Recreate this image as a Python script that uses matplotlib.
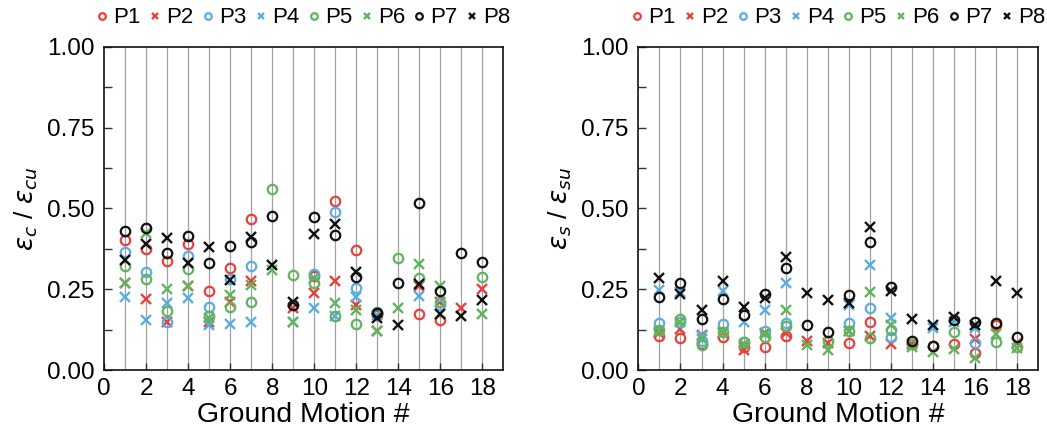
import numpy as np
import matplotlib
matplotlib.use("Agg")
import matplotlib.pyplot as plt
from matplotlib.ticker import MultipleLocator, FormatStrFormatter

plt.rcParams['font.family'] = ['Liberation Sans', 'DejaVu Sans']
plt.rcParams['mathtext.fontset'] = 'dejavusans'

nan = np.nan
ground_motions = list(range(1, 19))
series_names = ["P1", "P2", "P3", "P4", "P5", "P6", "P7", "P8"]

# Left panel: concrete strain ratio eps_c / eps_cu
conc_P1 = [0.401, 0.374, 0.338, 0.389, 0.244, 0.314, 0.466, nan, nan, 0.290, 0.524, 0.371, 0.170, nan, 0.173, 0.155, nan, nan]
conc_P2 = [0.270, 0.219, 0.150, 0.260, 0.150, 0.211, 0.275, nan, 0.191, 0.239, 0.275, 0.201, 0.122, nan, 0.260, 0.210, 0.191, 0.250]
conc_P3 = [0.365, 0.303, 0.150, 0.353, 0.196, 0.280, 0.322, nan, nan, 0.297, 0.490, 0.253, 0.175, nan, nan, 0.200, nan, nan]
conc_P4 = [0.227, 0.155, 0.206, 0.222, 0.140, 0.141, 0.150, nan, 0.150, 0.191, 0.167, 0.225, 0.170, nan, 0.229, nan, nan, nan]
conc_P5 = [0.323, 0.280, 0.182, 0.311, 0.167, 0.196, 0.209, 0.559, 0.294, 0.270, 0.167, 0.141, 0.180, 0.345, 0.284, 0.211, nan, 0.287]
conc_P6 = [0.270, 0.425, 0.250, 0.260, 0.160, 0.232, 0.263, 0.309, 0.150, 0.285, 0.208, 0.186, 0.122, 0.191, 0.328, 0.260, nan, 0.173]
conc_P7 = [0.430, 0.440, 0.361, 0.414, 0.332, 0.385, 0.397, 0.476, 0.200, 0.472, 0.418, 0.287, 0.175, 0.268, 0.516, 0.244, 0.361, 0.335]
conc_P8 = [0.340, 0.389, 0.409, 0.330, 0.381, 0.278, 0.412, 0.325, 0.210, 0.420, 0.451, 0.302, 0.160, 0.139, 0.266, 0.173, 0.167, 0.216]

# Right panel: steel strain ratio eps_s / eps_su
steel_P1 = [0.105, 0.100, 0.080, 0.103, 0.070, 0.072, 0.105, nan, nan, 0.082, 0.150, nan, 0.080, 0.075, 0.080, 0.052, 0.140, nan]
steel_P2 = [0.115, 0.127, 0.108, 0.115, 0.062, 0.115, 0.114, 0.091, 0.083, 0.120, 0.105, 0.080, 0.080, nan, nan, 0.096, nan, 0.085]
steel_P3 = [0.146, 0.150, 0.090, 0.142, 0.088, 0.120, 0.146, nan, nan, 0.144, 0.191, 0.103, nan, nan, nan, 0.085, nan, nan]
steel_P4 = [0.247, 0.240, 0.105, 0.244, 0.150, 0.186, 0.268, nan, nan, 0.200, 0.325, 0.160, nan, 0.130, 0.150, 0.130, nan, nan]
steel_P5 = [0.124, 0.157, 0.077, 0.119, 0.088, 0.101, 0.135, nan, 0.091, 0.120, 0.100, 0.124, 0.080, nan, 0.119, nan, 0.088, 0.070]
steel_P6 = [0.120, 0.150, 0.095, 0.119, 0.080, 0.110, 0.186, 0.077, 0.062, 0.120, 0.242, 0.140, 0.070, 0.057, 0.064, 0.036, 0.110, 0.067]
steel_P7 = [0.227, 0.268, 0.158, 0.219, 0.170, 0.234, 0.317, 0.139, 0.119, 0.232, 0.397, 0.256, 0.090, 0.075, 0.155, 0.148, 0.144, 0.103]
steel_P8 = [0.286, 0.235, 0.186, 0.276, 0.196, 0.222, 0.349, 0.239, 0.215, 0.208, 0.441, 0.244, 0.158, 0.139, 0.165, 0.140, 0.276, 0.237]

conc = [conc_P1, conc_P2, conc_P3, conc_P4, conc_P5, conc_P6, conc_P7, conc_P8]
steel = [steel_P1, steel_P2, steel_P3, steel_P4, steel_P5, steel_P6, steel_P7, steel_P8]

colors = ["#e8403c", "#e8403c", "#5aade2", "#5aade2", "#5fb45c", "#5fb45c", "#111111", "#111111"]
markers = ["o", "x", "o", "x", "o", "x", "o", "x"]

fig = plt.figure(figsize=(10.47, 4.48), dpi=100)
ax1 = fig.add_axes([0.0996, 0.1741, 0.381, 0.7217])
ax2 = fig.add_axes([0.6097, 0.1741, 0.382, 0.7217])

ylabels = [r'$\varepsilon_c$ / $\varepsilon_{cu}$', r'$\varepsilon_s$ / $\varepsilon_{su}$']

for ax, data, ylab in zip([ax1, ax2], [conc, steel], ylabels):
    for gm in ground_motions:
        ax.axvline(gm, color="#a0a0a0", lw=0.9, zorder=0)
    for name, vals, c, m in zip(series_names, data, colors, markers):
        if m == "o":
            ax.plot(ground_motions, vals, linestyle="none", marker="o", ms=6.8,
                    mfc="none", mec=c, mew=1.6, label=name, zorder=3)
        else:
            ax.plot(ground_motions, vals, linestyle="none", marker="x", ms=6.5,
                    color=c, mew=1.7, label=name, zorder=3)
    ax.set_xlim(0, 19)
    ax.set_ylim(0, 1.0)
    ax.xaxis.set_major_locator(MultipleLocator(2))
    ax.yaxis.set_major_locator(MultipleLocator(0.25))
    ax.yaxis.set_minor_locator(MultipleLocator(0.125))
    ax.yaxis.set_major_formatter(FormatStrFormatter('%.2f'))
    ax.tick_params(axis='both', which='both', direction='in', labelsize=17.5,
                   width=1.0, color="#333333")
    ax.tick_params(axis='x', which='major', length=5, pad=6)
    ax.tick_params(axis='y', which='both', length=6, pad=7)
    for s in ax.spines.values():
        s.set_linewidth(1.2)
        s.set_color("#111111")
    ax.set_xlabel("Ground Motion #", fontsize=20.5, labelpad=1)
    ax.set_ylabel(ylab, fontsize=19, labelpad=5)
    ax.legend(ncol=8, loc="lower center", bbox_to_anchor=(0.5, 1.015),
              frameon=False, fontsize=16, handlelength=0.5,
              handletextpad=0.25, columnspacing=0.4, markerscale=0.7,
              borderaxespad=0.2)

fig.savefig("out.png", dpi=100)
